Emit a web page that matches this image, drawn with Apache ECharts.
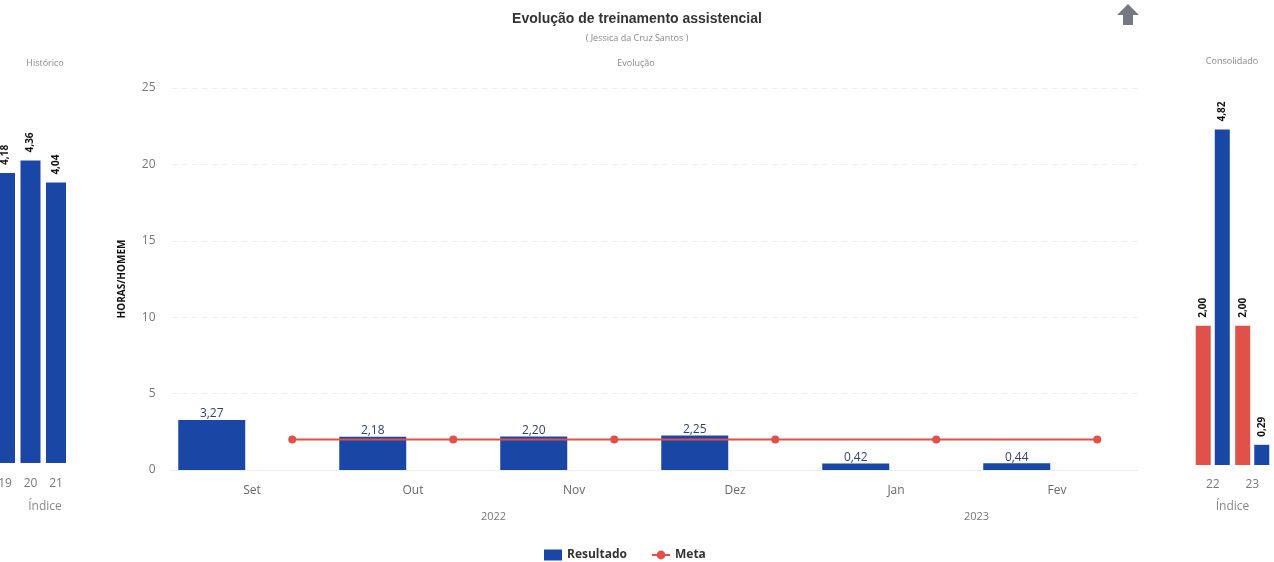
<!DOCTYPE html>
<html>
<head>
<meta charset="utf-8">
<script src="https://cdn.jsdelivr.net/npm/echarts@6/dist/echarts.min.js"></script>
<style>
  html, body { margin: 0; padding: 0; background: #fff; }
  #main { width: 1274px; height: 562px; }
</style>
</head>
<body>
<div id="main"></div>
<script>
// historico (painel esquerdo, cortado)
const histCats = ['19', '20', '21'];
const histValues = [4.18, 4.36, 4.04];

// evolucao mensal
const months = ['Set', 'Out', 'Nov', 'Dez', 'Jan', 'Fev'];
const monthYears = ['2022', '2022', '2022', '2022', '2023', '2023'];
const resultado = [3.27, 2.18, 2.20, 2.25, 0.42, 0.44];
const meta = [2.00, 2.00, 2.00, 2.00, 2.00, 2.00];
const yTicks = [0, 5, 10, 15, 20, 25];

// consolidado (painel direito)
const consCats = ['22', '23'];
const consMeta = [2.00, 2.00];
const consResultado = [4.82, 0.29];

const BLUE = '#1a47a6';
const RED = '#e05149';
const FONT = '"Open Sans", "Noto Sans", sans-serif';

const fmt = v => v.toFixed(2).replace('.', ',');

// year labels placed at the middle of their month span (half-category resolution)
const yearSlots = new Array(months.length * 2 + 1).fill('');
let start = 0;
while (start < monthYears.length) {
  let end = start;
  while (end < monthYears.length && monthYears[end] === monthYears[start]) end++;
  yearSlots[start + end] = monthYears[start];
  start = end;
}

const mainLeft = 171.5, mainWidth = 966, catW = mainWidth / months.length, shift = catW / 4;

const rotLabel = {
  show: true, position: 'top', rotate: 90, align: 'left', verticalAlign: 'middle',
  distance: 8, fontSize: 10, fontWeight: 'bold', color: '#111', fontFamily: FONT,
  formatter: p => fmt(p.value)
};

const chart = echarts.init(document.getElementById('main'));
chart.setOption({
  animation: false,
  textStyle: {fontFamily: FONT},
  title: {
    text: 'Evolução de treinamento assistencial',
    subtext: '( Jessica da Cruz Santos )',
    left: 'center', top: 7, itemGap: 8,
    textStyle: {fontFamily: '"Liberation Sans", Arial, sans-serif', fontSize: 14, fontWeight: 'bold', color: '#333'},
    subtextStyle: {fontFamily: FONT, fontSize: 9, color: '#888'}
  },
  legend: {
    data: [{name: 'Resultado', icon: 'rect'}, 'Meta'],
    left: 539, top: 544, itemWidth: 18, itemHeight: 11, itemGap: 24,
    textStyle: {fontFamily: FONT, fontSize: 12, fontWeight: 'bold', color: '#333'}
  },
  grid: [
    {left: -7.75, width: 76.5, top: 116, height: 347, outerBoundsMode: 'none'},                // historico
    {left: mainLeft, width: mainWidth, top: 88, height: 382, outerBoundsMode: 'none'},         // eixos evolucao
    {left: mainLeft - shift, width: mainWidth, top: 88, height: 382, outerBoundsMode: 'none'}, // barras
    {left: mainLeft + shift, width: mainWidth, top: 88, height: 382, outerBoundsMode: 'none'}, // linha meta
    {left: 1193, width: 79, top: 117, height: 348, outerBoundsMode: 'none'}                    // consolidado
  ],
  xAxis: [
    {
      gridIndex: 0, type: 'category', data: histCats,
      axisLine: {show: false}, axisTick: {show: false},
      axisLabel: {color: '#777', fontSize: 12, margin: 15},
      name: 'Índice', nameLocation: 'middle', nameGap: 38,
      nameTextStyle: {color: '#888', fontSize: 12, padding: [0, 0, 0, 29]}
    },
    {
      gridIndex: 1, type: 'category', data: months,
      axisLine: {lineStyle: {color: '#ececec'}},
      axisTick: {lineStyle: {color: '#e4e4e4'}},
      axisLabel: {color: '#666', fontSize: 12, margin: 15}
    },
    {
      gridIndex: 1, type: 'category', data: yearSlots, position: 'bottom', offset: 27,
      boundaryGap: false, axisLine: {show: false}, axisTick: {show: false},
      axisLabel: {color: '#777', fontSize: 11, interval: 0, margin: 14}
    },
    {gridIndex: 2, type: 'category', data: months, show: false},
    {gridIndex: 3, type: 'category', data: months, show: false},
    {
      gridIndex: 4, type: 'category', data: consCats,
      axisLine: {show: false}, axisTick: {show: false},
      axisLabel: {color: '#777', fontSize: 12, margin: 14},
      name: 'Índice', nameLocation: 'middle', nameGap: 36,
      nameTextStyle: {color: '#888', fontSize: 12}
    }
  ],
  yAxis: [
    {gridIndex: 0, type: 'value', min: 0, max: 5, show: false},
    {
      gridIndex: 1, type: 'value', min: yTicks[0], max: yTicks[yTicks.length - 1], interval: yTicks[1] - yTicks[0],
      axisLabel: {color: '#777', fontSize: 12, margin: 16},
      splitLine: {lineStyle: {color: '#efefef', type: [6, 4]}},
      name: 'HORAS/HOMEM', nameLocation: 'middle', nameRotate: 90, nameGap: 44,
      nameTextStyle: {color: '#111', fontSize: 10, fontWeight: 'bold'}
    },
    {gridIndex: 2, type: 'value', min: 0, max: 25, show: false},
    {gridIndex: 3, type: 'value', min: 0, max: 25, show: false},
    {gridIndex: 4, type: 'value', min: 0, max: 5, show: false}
  ],
  series: [
    {
      name: 'Resultado', type: 'bar', xAxisIndex: 3, yAxisIndex: 2,
      data: resultado, barWidth: 67, itemStyle: {color: BLUE},
      label: {
        show: true, position: 'top', distance: 0, fontSize: 12, color: '#2f3f75',
        formatter: p => fmt(p.value)
      }
    },
    {
      name: 'Meta', type: 'line', xAxisIndex: 4, yAxisIndex: 3,
      data: meta, symbol: 'circle', symbolSize: 8,
      itemStyle: {color: RED}, lineStyle: {color: RED, width: 2}
    },
    {
      name: 'Histórico', type: 'bar', xAxisIndex: 0, yAxisIndex: 0,
      data: histValues, barWidth: 20, itemStyle: {color: BLUE}, label: rotLabel
    },
    {
      name: 'Consolidado Meta', type: 'bar', xAxisIndex: 5, yAxisIndex: 4,
      data: consMeta, barWidth: 15, barGap: '27%', itemStyle: {color: RED}, label: rotLabel
    },
    {
      name: 'Consolidado Resultado', type: 'bar', xAxisIndex: 5, yAxisIndex: 4,
      data: consResultado, barWidth: 15, barGap: '27%', itemStyle: {color: BLUE}, label: rotLabel
    }
  ],
  graphic: [
    {type: 'text', x: 636, y: 63, style: {text: 'Evolução', fontSize: 9, fill: '#888', fontFamily: FONT, align: 'center', verticalAlign: 'middle'}},
    {type: 'text', x: 45, y: 63, style: {text: 'Histórico', fontSize: 9, fill: '#888', fontFamily: FONT, align: 'center', verticalAlign: 'middle'}},
    {type: 'text', x: 1232, y: 61, style: {text: 'Consolidado', fontSize: 9, fill: '#888', fontFamily: FONT, align: 'center', verticalAlign: 'middle'}},
    {
      type: 'polygon',
      shape: {points: [[1128, 4], [1139, 15], [1133, 15], [1133, 25], [1123, 25], [1123, 15], [1117, 15]]},
      style: {fill: '#77777f'}
    }
  ]
});
</script>
</body>
</html>
